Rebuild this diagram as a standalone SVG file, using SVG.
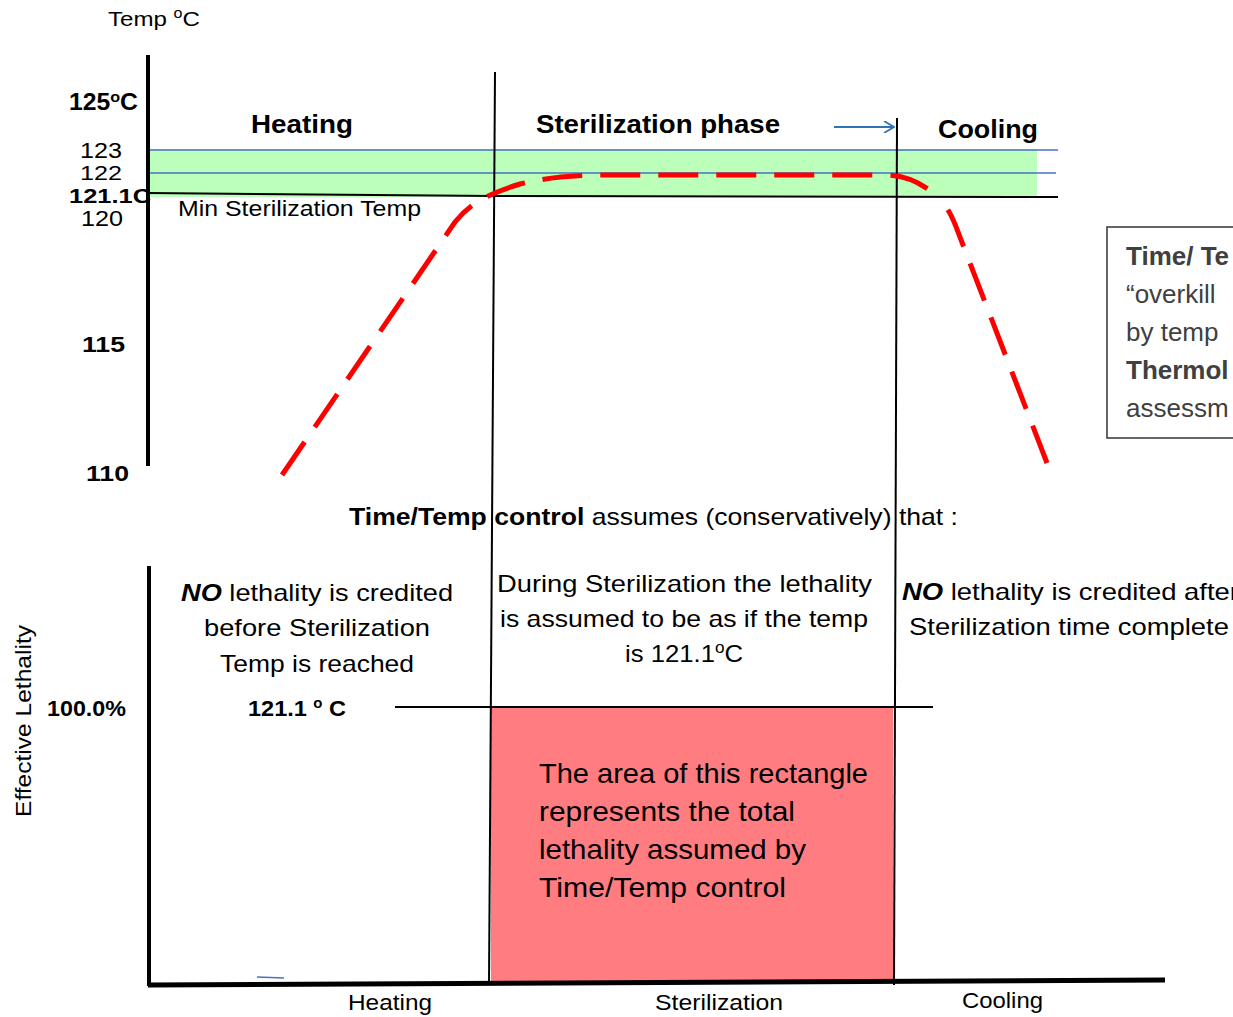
<svg xmlns="http://www.w3.org/2000/svg" width="1233" height="1017" viewBox="0 0 1233 1017">
<style>
text{font-family:"Liberation Sans",Arial,sans-serif;fill:#000}
.b{font-weight:bold}
.bi{font-weight:bold;font-style:italic}
.ax{stroke:#000;fill:none}
.blue{stroke:#4472C4;stroke-width:1.5;fill:none}
.grey{fill:#404040}
.red{fill:none;stroke:#FF0000;stroke-width:5;stroke-dasharray:40 18}
</style>
<defs>
<marker id="open" viewBox="0 0 12 12" refX="11" refY="6" markerWidth="12" markerHeight="12" markerUnits="userSpaceOnUse" orient="auto">
<path d="M1,0 L11,6 L1,12" fill="none" stroke="#2E75B6" stroke-width="1.8"/>
</marker>
</defs>

<g id="top-chart">
<rect x="150" y="149" width="887" height="48" fill="#BBFFBB"/>
<line class="blue" x1="148" y1="150" x2="1058" y2="150"/>
<line class="blue" x1="148" y1="173" x2="1056" y2="173"/>
<polyline class="ax" stroke-width="2" points="148,193 495,196 1058,197"/>
<line class="ax" stroke-width="4" x1="148" y1="55" x2="148" y2="466"/>
<text x="108" y="26" font-size="21" textLength="92" lengthAdjust="spacingAndGlyphs">Temp <tspan font-size="14" dy="-8">o</tspan><tspan dy="8">C</tspan></text>
<text class="b" x="69" y="110" font-size="23" textLength="69" lengthAdjust="spacingAndGlyphs">125<tspan font-size="15" dy="-8">o</tspan><tspan dy="8">C</tspan></text>
<text x="80" y="158" font-size="22" textLength="42" lengthAdjust="spacingAndGlyphs">123</text>
<text x="80" y="180" font-size="21" textLength="42" lengthAdjust="spacingAndGlyphs">122</text>
<text class="b" x="69" y="203" font-size="21" textLength="82" lengthAdjust="spacingAndGlyphs">121.1C</text>
<text x="81" y="226" font-size="22" textLength="42" lengthAdjust="spacingAndGlyphs">120</text>
<text class="b" x="82" y="352" font-size="22" textLength="43" lengthAdjust="spacingAndGlyphs">115</text>
<text class="b" x="86" y="481" font-size="22" textLength="43" lengthAdjust="spacingAndGlyphs">110</text>
<text class="b" x="251" y="133" font-size="26" textLength="102" lengthAdjust="spacingAndGlyphs">Heating</text>
<text class="b" x="536" y="133" font-size="26" textLength="244" lengthAdjust="spacingAndGlyphs">Sterilization phase</text>
<text class="b" x="938" y="138" font-size="26" textLength="100" lengthAdjust="spacingAndGlyphs">Cooling</text>
<text x="178" y="216" font-size="22" textLength="243" lengthAdjust="spacingAndGlyphs">Min Sterilization Temp</text>
</g>

<g id="note-box">
<rect x="1107" y="227" width="140" height="211" fill="#fff" stroke="#333" stroke-width="1.5"/>
<text class="b grey" x="1126" y="265" font-size="26">Time/ Te</text>
<text class="grey" x="1126" y="303" font-size="26">“overkill</text>
<text class="grey" x="1126" y="341" font-size="26">by temp</text>
<text class="b grey" x="1126" y="379" font-size="26">Thermol</text>
<text class="grey" x="1126" y="417" font-size="26">assessm</text>
</g>

<g id="bottom-chart">
<rect x="491" y="708" width="402" height="273" fill="#FF7C80"/>
<line class="ax" stroke-width="2" x1="395" y1="707" x2="933" y2="707"/>
<line class="ax" stroke-width="4" x1="149" y1="566" x2="149" y2="986"/>
<line class="ax" stroke-width="5" x1="148" y1="985" x2="1165" y2="980"/>
<line x1="257" y1="977" x2="284" y2="978" stroke="#4472C4" stroke-width="1.5"/>
<text x="31" y="817" font-size="22" transform="rotate(-90 31 817)" textLength="192" lengthAdjust="spacingAndGlyphs">Effective Lethality</text>
<text class="b" x="47" y="716" font-size="22" textLength="79" lengthAdjust="spacingAndGlyphs">100.0%</text>
<text class="b" x="248" y="716" font-size="22" textLength="98" lengthAdjust="spacingAndGlyphs">121.1 <tspan font-size="14" dy="-8">o</tspan><tspan dy="8"> C</tspan></text>
<text x="181" y="601" font-size="24" textLength="272" lengthAdjust="spacingAndGlyphs"><tspan class="bi">NO</tspan> lethality is credited</text>
<text x="204" y="636" font-size="24" textLength="226" lengthAdjust="spacingAndGlyphs">before Sterilization</text>
<text x="220" y="672" font-size="24" textLength="194" lengthAdjust="spacingAndGlyphs">Temp is reached</text>
<text x="497" y="592" font-size="24" textLength="375" lengthAdjust="spacingAndGlyphs">During Sterilization the lethality</text>
<text x="500" y="627" font-size="24" textLength="368" lengthAdjust="spacingAndGlyphs">is assumed to be as if the temp</text>
<text x="625" y="662" font-size="24" textLength="118" lengthAdjust="spacingAndGlyphs">is 121.1<tspan font-size="16" dy="-9">o</tspan><tspan dy="9">C</tspan></text>
<text x="902" y="600" font-size="24" textLength="337" lengthAdjust="spacingAndGlyphs"><tspan class="bi">NO</tspan> lethality is credited after</text>
<text x="909" y="635" font-size="24" textLength="320" lengthAdjust="spacingAndGlyphs">Sterilization time complete</text>
<text x="539" y="783" font-size="28" textLength="329" lengthAdjust="spacingAndGlyphs">The area of this rectangle</text>
<text x="539" y="821" font-size="28" textLength="256" lengthAdjust="spacingAndGlyphs">represents the total</text>
<text x="539" y="859" font-size="28" textLength="267" lengthAdjust="spacingAndGlyphs">lethality assumed by</text>
<text x="539" y="897" font-size="28" textLength="247" lengthAdjust="spacingAndGlyphs">Time/Temp control</text>
<text x="348" y="1010" font-size="22" textLength="84" lengthAdjust="spacingAndGlyphs">Heating</text>
<text x="655" y="1010" font-size="22" textLength="128" lengthAdjust="spacingAndGlyphs">Sterilization</text>
<text x="962" y="1008" font-size="22" textLength="81" lengthAdjust="spacingAndGlyphs">Cooling</text>
</g>

<text x="349" y="525" font-size="24" textLength="609" lengthAdjust="spacingAndGlyphs"><tspan class="b">Time/Temp control</tspan> assumes (conservatively) that :</text>

<g id="connectors">
<line class="ax" stroke-width="2" x1="495" y1="72" x2="489" y2="985"/>
<line class="ax" stroke-width="2" x1="897" y1="118" x2="894" y2="985"/>
<line x1="834" y1="127" x2="894" y2="127" stroke="#2E75B6" stroke-width="2" marker-end="url(#open)"/>
<path class="red" d="M282,475 L455,222 C470,203 488,194 520,184 C545,178 565,176 595,175 L885,175 C903,175 915,180 928,189"/>
<path class="red" d="M1047,463 L958,232 C953,218 948,208 940,199"/>
</g>
</svg>
